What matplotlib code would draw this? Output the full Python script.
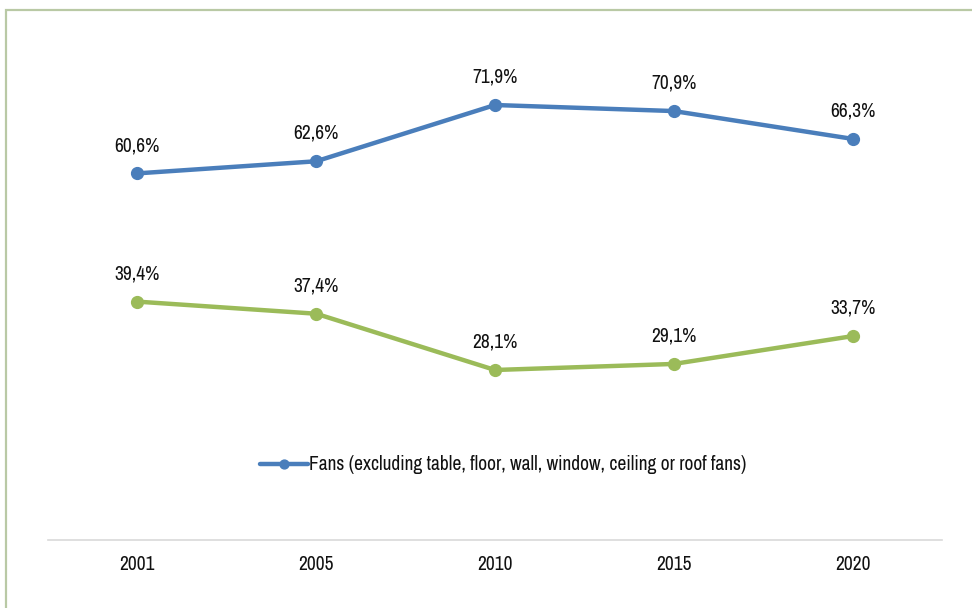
import matplotlib
matplotlib.use("Agg")
import matplotlib.pyplot as plt
from matplotlib import font_manager
from matplotlib.patches import Rectangle

years = ["2001", "2005", "2010", "2015", "2020"]
fans_excl = [60.6, 62.6, 71.9, 70.9, 66.3]
other_fans = [39.4, 37.4, 28.1, 29.1, 33.7]
legend_label = "Fans (excluding table, floor, wall, window, ceiling or roof fans)"

# narrow sans face, first one that is installed
installed = {f.name for f in font_manager.fontManager.ttflist}
candidates = ["Liberation Sans Narrow", "Arial Narrow", "Archivo Narrow",
              "PT Sans Narrow", "Roboto Condensed", "Open Sans Condensed"]
narrow = next((c for c in candidates if c in installed), "DejaVu Sans")
plt.rcParams["font.family"] = [narrow, "DejaVu Sans"]

W, H = 972, 608
fig = plt.figure(figsize=(W / 100, H / 100), dpi=100)
fig.patch.set_facecolor("white")

# chart frame running off the right and bottom edges
fig.add_artist(Rectangle((6 / W, -0.05), 1.1, 1.05 - 10 / H,
                         transform=fig.transFigure, fill=False,
                         edgecolor="#b9c9a5", linewidth=1.6))

ax = fig.add_axes([48 / W, (H - 540) / H, (942 - 48) / W, (540 - 56) / H])
x = list(range(len(years)))

blue = "#4a7ebb"
green = "#9bbb59"
ax.plot(x, fans_excl, color=blue, lw=3.2, marker="o", ms=8.5,
        solid_capstyle="round", label=legend_label)
ax.plot(x, other_fans, color=green, lw=3.2, marker="o", ms=8.5,
        solid_capstyle="round")

fs = 14
for series in (fans_excl, other_fans):
    for xi, v in zip(x, series):
        ax.annotate(f"{v:.1f}%".replace(".", ","), (xi, v), xytext=(0, 20),
                    textcoords="offset points", ha="center", va="center",
                    fontsize=fs, color="#111111")

ax.set_xlim(-0.5, len(years) - 0.5)
ax.set_ylim(0, 80)
ax.set_xticks(x)
ax.set_xticklabels(years, fontsize=fs, color="#111111")
ax.tick_params(axis="x", length=0, pad=11)
ax.set_yticks([])
for s in ("top", "right", "left"):
    ax.spines[s].set_visible(False)
ax.spines["bottom"].set_color("#d9d9d9")
ax.spines["bottom"].set_linewidth(1.2)

leg = ax.legend(loc="center",
                bbox_to_anchor=(0.509, (540 - 465) / (540 - 56)),
                frameon=False, fontsize=fs, handlelength=2.5,
                handletextpad=0.05, borderaxespad=0, markerscale=0.75)
for t in leg.get_texts():
    t.set_color("#111111")

fig.savefig("out.png", dpi=100)
